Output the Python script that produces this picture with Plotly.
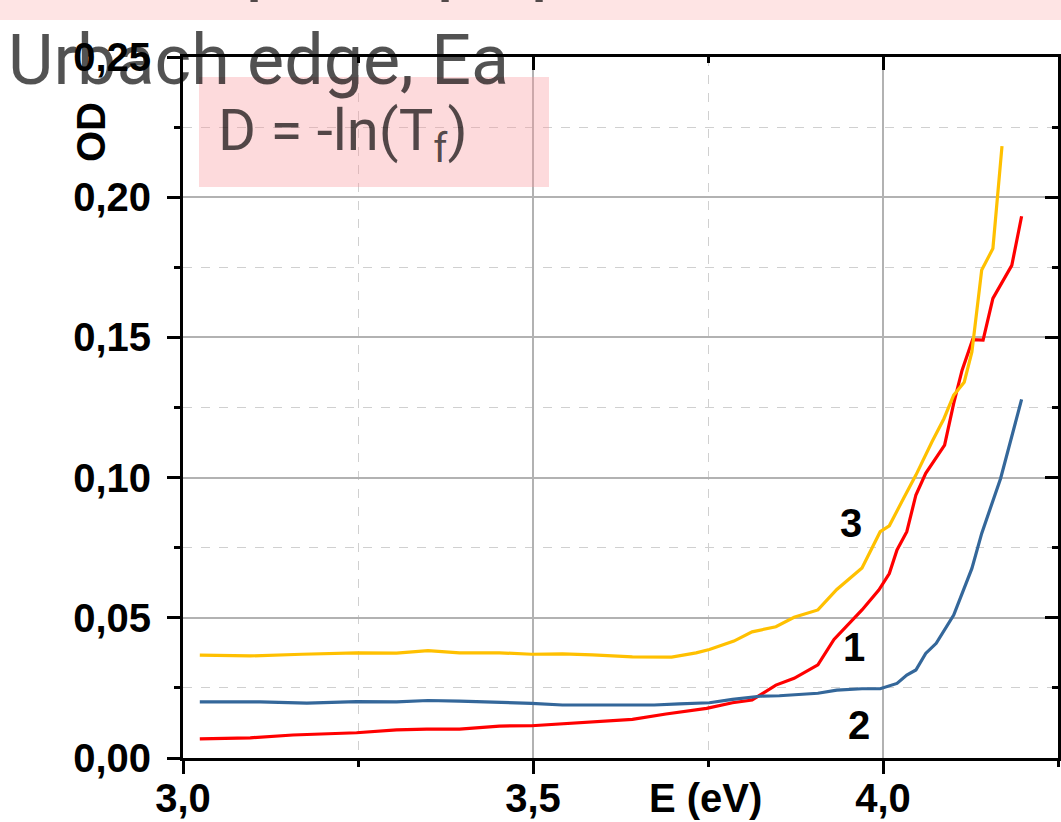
import plotly.graph_objects as go

# Photon energy (eV) and optical density for the three samples
e_1 = [3.024, 3.096, 3.157, 3.248, 3.305, 3.348, 3.395, 3.452, 3.498, 3.566, 3.642, 3.690,
       3.748, 3.785, 3.813, 3.847, 3.873, 3.907, 3.930, 3.970, 3.994, 4.009, 4.020, 4.034,
       4.047, 4.061, 4.088, 4.101, 4.113, 4.128, 4.143, 4.157, 4.184, 4.198]
od_1 = [0.0068, 0.0072, 0.0082, 0.0090, 0.0100, 0.0103, 0.0103, 0.0114, 0.0115, 0.0127, 0.0138, 0.0157,
        0.0177, 0.0197, 0.0207, 0.0260, 0.0284, 0.0332, 0.0423, 0.0528, 0.0599, 0.0658, 0.0742, 0.0807,
        0.0938, 0.1015, 0.1116, 0.1265, 0.1383, 0.1492, 0.1490, 0.1639, 0.1757, 0.1932]

e_2 = [3.024, 3.110, 3.177, 3.248, 3.305, 3.350, 3.395, 3.452, 3.498, 3.542, 3.613, 3.673,
       3.709, 3.752, 3.785, 3.827, 3.852, 3.907, 3.934, 3.970, 3.996, 4.020, 4.034, 4.047,
       4.061, 4.076, 4.101, 4.127, 4.141, 4.168, 4.198]
od_2 = [0.0200, 0.0200, 0.0196, 0.0201, 0.0200, 0.0205, 0.0203, 0.0199, 0.0195, 0.0189, 0.0190, 0.0189,
        0.0193, 0.0197, 0.0209, 0.0221, 0.0222, 0.0231, 0.0242, 0.0247, 0.0247, 0.0266, 0.0296, 0.0314,
        0.0373, 0.0409, 0.0510, 0.0676, 0.0801, 0.0997, 0.1279]

e_3 = [3.024, 3.096, 3.170, 3.248, 3.305, 3.350, 3.395, 3.452, 3.498, 3.542, 3.585, 3.642,
       3.698, 3.733, 3.752, 3.787, 3.813, 3.847, 3.873, 3.907, 3.934, 3.970, 3.996, 4.009,
       4.030, 4.047, 4.070, 4.087, 4.101, 4.116, 4.127, 4.141, 4.157, 4.170]
od_3 = [0.0367, 0.0364, 0.0370, 0.0375, 0.0374, 0.0383, 0.0375, 0.0375, 0.0370, 0.0371, 0.0368, 0.0361,
        0.0360, 0.0375, 0.0387, 0.0417, 0.0450, 0.0468, 0.0502, 0.0528, 0.0601, 0.0678, 0.0807, 0.0828,
        0.0929, 0.1009, 0.1128, 0.1210, 0.1294, 0.1340, 0.1448, 0.1740, 0.1817, 0.2182]

curve_labels = ["1", "2", "3"]
label_e = [3.958, 3.966, 3.954]
label_od = [0.0396, 0.0118, 0.0838]

W, H = 1061, 822
X0, X1 = 183, 1058          # plot area, pixels
Y0, Y1 = 57, 758

BOLD = dict(family="Liberation Sans, Arial, sans-serif", size=40, color="black", weight="bold")
GREY_TXT = "rgba(0,0,0,0.68)"


def px(x):
    return x / W


def py(y):
    return 1 - y / H


fig = go.Figure()
fig.add_trace(go.Scatter(x=e_1, y=od_1, mode="lines", line=dict(color="#FF0000", width=3.2),
                         name=curve_labels[0]))
fig.add_trace(go.Scatter(x=e_2, y=od_2, mode="lines", line=dict(color="#34679A", width=3.2),
                         name=curve_labels[1]))
fig.add_trace(go.Scatter(x=e_3, y=od_3, mode="lines", line=dict(color="#FFC000", width=3.2),
                         name=curve_labels[2]))
# empty trace so the mirrored top/right axes get their own subplot
fig.add_trace(go.Scatter(x=[], y=[], xaxis="x2", yaxis="y2", showlegend=False, hoverinfo="skip"))

xrange = [3.0, 4.25]
yrange = [0.0, 0.25]

common = dict(showline=True, linewidth=3, linecolor="black", zeroline=False,
              tickwidth=3, tickcolor="black", automargin=False)

fig.update_layout(
    width=W, height=H,
    margin=dict(l=0, r=0, t=0, b=0, pad=0),
    paper_bgcolor="white", plot_bgcolor="white",
    showlegend=False,
    separators=", ",
    xaxis=dict(domain=[px(X0), px(X1)], range=xrange, tick0=3.0, dtick=0.5, tickformat=".1f",
               ticks="outside", ticklen=13, tickfont=BOLD, ticklabelstandoff=-10,
               showgrid=True, gridcolor="#b2b2b2", gridwidth=1.5,
               minor=dict(tick0=3.0, dtick=0.25, ticks="outside", ticklen=6, tickwidth=3,
                          tickcolor="black", showgrid=True, gridcolor="#d0d0d0",
                          griddash="dash", gridwidth=1),
               **common),
    yaxis=dict(domain=[py(Y1), py(Y0)], range=yrange, tick0=0, dtick=0.05, tickformat=".2f",
               ticks="outside", ticklen=13, tickfont=BOLD, ticklabelstandoff=8,
               showgrid=True, gridcolor="#b2b2b2", gridwidth=1.5,
               minor=dict(tick0=0, dtick=0.025, ticks="outside", ticklen=6, tickwidth=3,
                          tickcolor="black", showgrid=True, gridcolor="#d0d0d0",
                          griddash="dash", gridwidth=1),
               **common),
    xaxis2=dict(overlaying="x", side="top", anchor="y2", range=xrange, tick0=3.0, dtick=0.5,
                ticks="inside", ticklen=13, showticklabels=False, showgrid=False,
                minor=dict(tick0=3.0, dtick=0.25, ticks="inside", ticklen=6, tickwidth=3,
                           tickcolor="black", showgrid=False),
                **common),
    yaxis2=dict(overlaying="y", side="right", anchor="x2", range=yrange, tick0=0, dtick=0.05,
                ticks="inside", ticklen=13, showticklabels=False, showgrid=False,
                minor=dict(tick0=0, dtick=0.025, ticks="inside", ticklen=6, tickwidth=3,
                           tickcolor="black", showgrid=False),
                **common),
)

# pink header band and the formula box
fig.add_shape(type="rect", xref="paper", yref="paper", x0=0, x1=1, y0=py(20), y1=1,
              fillcolor="#FEE4E4", line=dict(width=0), layer="above")
fig.add_shape(type="rect", xref="paper", yref="paper", x0=px(199), x1=px(549), y0=py(187), y1=py(77),
              fillcolor="rgba(250,150,155,0.35)", line=dict(width=0), layer="above")

# header line sitting just above the page edge; only descenders show
for gx, glyph in [(243, "p"), (434, "p"), (528, "p"), (958, ",")]:
    fig.add_annotation(x=px(gx), y=py(-41), xref="paper", yref="paper", text=glyph,
                       showarrow=False, xanchor="left", yanchor="middle",
                       font=dict(family="Roboto", size=80, color=GREY_TXT))

fig.add_annotation(x=px(6), y=py(60), xref="paper", yref="paper", text="Urbach edge, Ea",
                   showarrow=False, xanchor="left", yanchor="middle",
                   font=dict(family="Roboto", size=70, color=GREY_TXT))
fig.add_annotation(x=px(216), y=py(134), xref="paper", yref="paper", text="D = -ln(T<sub>f</sub>)",
                   showarrow=False, xanchor="left", yanchor="middle",
                   font=dict(family="Roboto", size=58, color=GREY_TXT))

# axis titles
fig.add_annotation(x=px(91), y=py(132), xref="paper", yref="paper", text="OD", textangle=-90,
                   showarrow=False, xanchor="center", yanchor="middle", font=BOLD)
fig.add_annotation(x=px(705), y=py(798), xref="paper", yref="paper", text="E (eV)",
                   showarrow=False, xanchor="center", yanchor="middle", font=BOLD)

# curve numbers
for t, xe, yo in zip(curve_labels, label_e, label_od):
    fig.add_annotation(x=xe, y=yo, text=t, showarrow=False, xanchor="center", yanchor="middle",
                       font=BOLD)

fig.write_html("out.html")
